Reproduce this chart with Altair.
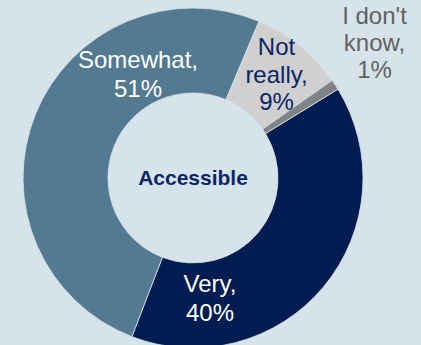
import math
import altair as alt
import pandas as pd

categories = ["Very", "Somewhat", "Not really", "I don't know"]
values = [40, 51, 9, 1]
order = [0, 1, 2, 3]
colors = ["#001C50", "#537A91", "#D0D0D0", "#808487"]

label_lines = {
    "Very": ["Very,", "40%"],
    "Somewhat": ["Somewhat,", "51%"],
    "Not really": ["Not", "really,", "9%"],
    "I don't know": ["I don't", "know,", "1%"],
}

df = pd.DataFrame({"category": categories, "value": values, "order": order})

start = math.radians(58.5)
bg = "#D7E3EA"

donut = alt.Chart(df).mark_arc(
    innerRadius=85, outerRadius=170, stroke=bg, strokeWidth=0.8
).encode(
    theta=alt.Theta("value:Q", stack=True,
                    scale=alt.Scale(range=[start, start + 2 * math.pi])),
    color=alt.Color("category:N", scale=alt.Scale(domain=categories, range=colors), legend=None),
    order=alt.Order("order:Q"),
    x=alt.value(193),
    y=alt.value(178),
)

def label(cat, x, y, color, lh, size=24):
    d = pd.DataFrame({"t": ["\n".join(label_lines[cat])]})
    return alt.Chart(d).mark_text(
        font="Liberation Sans", fontSize=size, color=color, align="center",
        baseline="alphabetic", lineBreak="\n", lineHeight=lh
    ).encode(text="t:N", x=alt.value(x), y=alt.value(y))

center_df = pd.DataFrame({"t": ["Accessible"]})
center = alt.Chart(center_df).mark_text(
    font="Liberation Sans", fontSize=21, fontWeight="bold", color="#0B2667",
    align="center", baseline="alphabetic"
).encode(text="t:N", x=alt.value(193), y=alt.value(185))

chart = alt.layer(
    donut,
    label("Somewhat", 138, 68, "white", 29),
    label("Not really", 276.5, 55, "#0B2667", 27.5),
    label("I don't know", 374.5, 24, "#626262", 27),
    label("Very", 210, 292, "white", 28.5),
    center,
).properties(
    width=421, height=345, background=bg, padding=0,
    autosize=alt.AutoSizeParams(type="none")
).configure_view(stroke=None)

chart.save("out.html", embed_options={"renderer": "svg", "actions": False})
